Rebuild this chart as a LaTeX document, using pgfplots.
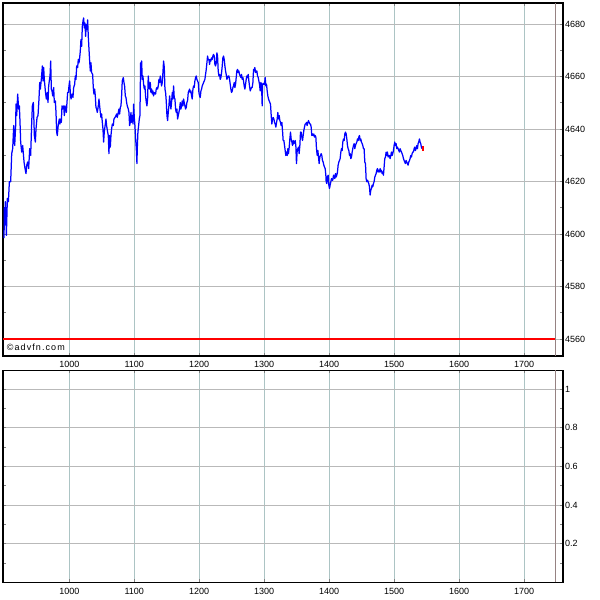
\documentclass[border=0pt]{standalone}
\usepackage{fontspec}
\setmainfont{Liberation Sans}
\usepackage{pgfplots}
\pgfplotsset{compat=1.18}
\definecolor{vgrid}{RGB}{172,196,196}
\definecolor{hgrid}{RGB}{185,185,185}
\definecolor{nowline}{RGB}{150,130,130}
\definecolor{advblue}{RGB}{0,0,255}
\pgfplotsset{
  advstyle/.style={
    scale only axis, width=560pt,
    xmin=897.9, xmax=1760,
    axis line style={line width=1.1pt},
    xtick={1000,1100,1200,1300,1400,1500,1600,1700},
    tick align=inside,
    xtick pos=both, ytick pos=both,
    yticklabel pos=right,
    xticklabel pos=lower,
    major tick length=3pt, minor tick length=3pt,
    tick style={line width=0.8pt},
    grid=major,
    major grid style={hgrid, solid, line width=0.8pt},
    x grid style={vgrid},
    y grid style={hgrid},
    tick label style={font=\fontsize{9}{10}\selectfont, inner sep=0pt},
    xticklabel style={yshift=-5.5pt},
    yticklabel style={xshift=1.8pt},
    /pgf/number format/assume math mode=true,
    /pgf/number format/1000 sep={},
    scaled ticks=false,
  }
}
\begin{document}
\begin{tikzpicture}
\path[use as bounding box] (0pt,0pt) rectangle (600pt,600pt);
% ---------- top panel ----------
\begin{axis}[advstyle, at={(3pt,244pt)}, anchor=south west, height=353pt,
  ymin=4553.5, ymax=4688,
  ytick={4560,4580,4600,4620,4640,4660,4680},
  minor ytick={4570,4590,4610,4630,4650,4670},
]
\addplot[nowline, line width=0.8pt] coordinates {(1748,4553.5) (1748,4688)};
\addplot[red, line width=1.3pt] coordinates {(897.9,4560) (1748,4560)};
\addplot[advblue, line width=1.25pt, line join=round] coordinates {
(899.5,4598.4) (900.0,4610.0) (901.0,4603.4) (901.5,4612.3) (902.6,4607.2) (903.1,4599.5) (903.6,4604.0) (904.6,4613.5) (906.2,4612.3)
(907.7,4619.9) (909.7,4619.9) (911.3,4630.6) (912.8,4632.5) (914.4,4641.3) (915.9,4633.7) (917.4,4641.3) (917.9,4649.5) (919.0,4645.1)
(920.5,4653.3) (922.0,4647.6) (923.1,4648.8) (924.1,4642.5) (925.1,4635.0) (926.7,4631.2) (928.2,4633.7) (930.3,4627.4) (931.8,4624.9)
(933.3,4623.0) (934.4,4626.2) (935.9,4627.4) (937.4,4624.9) (939.0,4632.5) (940.5,4629.9) (942.0,4641.9) (943.1,4648.8) (944.6,4650.1)
(946.2,4637.5) (947.7,4635.0) (948.7,4640.0) (950.3,4644.4) (951.8,4645.1) (953.3,4651.4) (954.4,4657.7) (955.4,4655.2) (956.9,4658.9)
(958.5,4664.0) (959.5,4658.3) (960.5,4663.4) (961.5,4658.9) (963.1,4654.5) (964.6,4651.4) (966.1,4653.9) (967.2,4650.1) (968.2,4656.4)
(969.2,4658.3) (970.3,4660.2) (971.3,4665.9) (972.3,4655.2) (973.3,4654.5) (974.4,4652.6) (975.9,4655.8) (976.9,4650.1) (978.5,4650.7)
(979.5,4646.3) (980.5,4638.8) (981.5,4637.5) (982.6,4640.7) (983.6,4642.5) (984.6,4643.8) (985.6,4641.9) (986.7,4643.8) (987.7,4642.5)
(988.7,4648.8) (989.7,4647.6) (991.3,4648.8) (992.3,4645.1) (993.3,4648.8) (994.4,4647.6) (995.4,4646.3) (996.4,4650.1) (997.4,4653.9)
(998.5,4653.9) (999.5,4656.4) (1000.5,4658.3) (1001.5,4653.9) (1002.6,4651.4) (1003.6,4652.6) (1004.6,4653.3) (1005.6,4652.0) (1006.7,4655.8)
(1008.2,4657.0) (1009.2,4660.2) (1010.3,4658.9) (1011.3,4664.0) (1012.8,4663.4) (1013.8,4666.5) (1014.9,4665.2) (1015.9,4667.1) (1016.9,4669.7)
(1017.9,4674.1) (1019.0,4671.5) (1020.0,4679.1) (1021.0,4681.0) (1022.0,4682.3) (1023.1,4678.5) (1024.1,4680.4) (1025.1,4675.3) (1026.1,4679.8)
(1027.2,4677.9) (1028.2,4681.6) (1029.2,4675.3) (1030.3,4670.3) (1031.3,4665.9) (1032.3,4662.1) (1033.3,4665.2) (1034.3,4661.5) (1035.9,4660.8)
(1036.9,4655.8) (1037.9,4653.3) (1039.0,4655.2) (1040.0,4652.6) (1041.0,4648.2) (1042.0,4647.6) (1043.1,4646.3) (1044.6,4648.8) (1045.6,4651.4)
(1046.7,4648.8) (1047.7,4646.3) (1048.7,4644.4) (1049.7,4645.7) (1050.8,4642.5) (1051.8,4640.0) (1052.8,4635.0) (1053.8,4638.8)
(1056.4,4643.8) (1057.4,4641.3) (1059.0,4638.8) (1060.0,4637.5) (1061.0,4630.6) (1062.0,4637.5) (1063.1,4633.1) (1064.1,4637.5) (1065.1,4640.0)
(1066.2,4641.9) (1067.7,4641.3) (1068.7,4643.8) (1070.3,4644.4) (1071.8,4645.1) (1072.8,4645.7) (1073.8,4644.4) (1075.4,4646.3) (1076.4,4647.6)
(1077.4,4645.7) (1078.5,4648.2) (1079.5,4648.8) (1080.5,4652.6) (1081.5,4658.3) (1083.1,4659.6) (1084.1,4657.7) (1085.1,4656.4) (1086.2,4652.6)
(1087.2,4652.0) (1088.2,4650.1) (1089.2,4648.8) (1090.8,4647.6) (1091.8,4646.3) (1092.3,4643.8) (1092.8,4641.3) (1093.8,4642.5) (1094.9,4646.3)
(1095.9,4642.5) (1096.9,4645.1) (1098.0,4641.9) (1099.0,4649.5) (1100.0,4644.4) (1101.0,4641.3) (1102.1,4636.2) (1103.1,4632.5) (1104.1,4626.8)
(1104.6,4632.5) (1105.6,4638.8) (1106.7,4641.3) (1107.7,4643.8) (1108.7,4645.1) (1109.2,4653.9) (1109.7,4665.2) (1110.3,4660.2) (1111.3,4665.9)
(1112.3,4658.9) (1113.3,4660.2) (1114.4,4657.0) (1115.4,4655.2) (1116.4,4656.4) (1117.4,4652.6) (1118.5,4650.1) (1119.5,4648.8) (1120.5,4651.4)
(1121.5,4660.2) (1122.6,4656.4) (1123.6,4655.2) (1124.6,4657.7) (1125.6,4653.9) (1126.7,4655.2) (1127.7,4653.3) (1128.7,4654.5) (1129.7,4652.6)
(1130.8,4653.9) (1132.8,4653.3) (1133.8,4655.2) (1134.9,4655.8) (1135.9,4655.2) (1136.9,4656.4) (1138.0,4658.9) (1139.0,4657.7) (1140.0,4660.2)
(1141.0,4658.3) (1142.0,4656.4) (1143.1,4657.7) (1144.1,4661.5) (1145.1,4665.9) (1146.2,4663.4) (1147.2,4655.2) (1148.2,4653.9) (1149.2,4650.7)
(1150.3,4645.1) (1151.3,4643.2) (1152.3,4646.3) (1153.3,4648.8) (1154.4,4652.6) (1155.4,4650.1) (1156.4,4647.6) (1157.4,4650.1) (1158.5,4653.9)
(1159.5,4651.4) (1160.5,4656.4) (1161.5,4652.0) (1162.6,4651.4) (1163.6,4647.6) (1164.6,4646.3) (1165.6,4647.6) (1166.7,4643.8) (1167.7,4645.1)
(1168.7,4646.3) (1169.7,4647.6) (1170.8,4650.1) (1171.8,4647.6) (1172.8,4648.8) (1173.8,4650.7) (1174.9,4648.8) (1175.9,4651.4) (1176.9,4650.1)
(1178.0,4648.8) (1179.0,4647.6) (1180.0,4648.2) (1181.0,4650.1) (1182.0,4650.7) (1183.1,4653.9) (1184.1,4654.5) (1185.1,4655.2) (1186.1,4653.9)
(1187.2,4654.5) (1188.2,4652.6) (1189.2,4651.4) (1190.3,4655.2) (1191.3,4656.4) (1192.3,4655.8) (1193.3,4658.3) (1194.4,4659.6) (1195.4,4660.2)
(1196.4,4658.9) (1197.4,4658.3) (1198.5,4657.7) (1199.5,4653.9) (1200.5,4652.6) (1201.5,4652.0) (1202.6,4654.5) (1203.6,4655.2) (1204.6,4656.4)
(1205.6,4657.0) (1206.7,4657.7) (1207.7,4658.3) (1208.7,4658.9) (1209.7,4660.8) (1210.8,4662.7) (1211.8,4665.2) (1212.8,4667.8) (1213.8,4666.5)
(1214.9,4666.5) (1215.9,4664.6) (1216.9,4666.5) (1217.9,4665.9) (1219.0,4667.1) (1220.0,4666.5) (1221.0,4667.8) (1222.0,4668.4) (1223.1,4667.8)
(1224.1,4664.6) (1225.1,4664.0) (1226.2,4665.2) (1227.2,4669.0) (1228.2,4667.8) (1229.2,4662.1) (1230.3,4660.2) (1231.3,4660.8) (1232.3,4658.9)
(1233.3,4659.6) (1234.4,4661.5) (1235.4,4664.0) (1236.4,4667.1) (1237.4,4667.8) (1238.5,4666.5) (1239.5,4664.0) (1240.5,4662.1) (1241.5,4660.8)
(1242.6,4658.9) (1243.6,4659.6) (1244.6,4660.2) (1245.6,4660.2) (1246.7,4658.9) (1247.7,4657.0) (1248.7,4655.2) (1249.7,4653.9) (1250.8,4654.5)
(1251.8,4655.8) (1252.8,4656.4) (1253.8,4657.7) (1254.9,4655.8) (1255.9,4657.0) (1256.9,4659.6) (1257.9,4662.1) (1259.0,4662.7) (1260.0,4661.5)
(1261.0,4662.1) (1262.0,4660.8) (1263.1,4660.2) (1264.1,4659.6) (1265.1,4660.8) (1266.2,4658.9) (1267.2,4659.6) (1268.2,4658.3) (1269.2,4656.4)
(1270.3,4655.2) (1271.3,4657.0) (1272.3,4658.9) (1273.3,4660.2) (1274.4,4659.6) (1275.4,4660.8) (1276.4,4658.3) (1277.4,4656.4) (1278.5,4654.5)
(1279.5,4655.2) (1280.5,4655.8) (1281.5,4655.8) (1282.6,4657.7) (1283.6,4662.7) (1284.6,4662.1) (1285.6,4663.4) (1286.7,4661.5) (1287.7,4662.1)
(1288.7,4662.1) (1289.7,4660.2) (1290.8,4659.6) (1291.8,4658.3) (1292.8,4657.0) (1293.8,4654.5) (1294.9,4657.7) (1295.9,4657.0) (1296.9,4648.8)
(1297.4,4657.0) (1298.5,4657.4) (1299.5,4657.0) (1300.5,4657.0) (1301.5,4659.6) (1302.6,4656.4) (1303.6,4657.0) (1304.6,4654.5) (1305.6,4652.6)
(1306.7,4651.4) (1307.7,4650.7) (1308.7,4650.1) (1309.7,4649.5) (1310.8,4645.1) (1311.8,4641.9) (1312.8,4643.8) (1313.8,4644.4) (1314.9,4643.8)
(1315.9,4642.5) (1316.9,4641.9) (1318.0,4640.7) (1319.0,4642.5) (1320.0,4643.8) (1321.0,4646.3) (1322.0,4643.8) (1323.1,4645.1) (1324.1,4643.2)
(1325.1,4642.5) (1326.1,4641.3) (1327.2,4642.5) (1328.2,4639.4) (1329.2,4635.6) (1330.3,4635.6) (1331.3,4633.7) (1332.3,4631.8) (1333.3,4629.9)
(1334.4,4631.2) (1335.4,4629.9) (1336.4,4632.5) (1337.4,4630.6) (1338.5,4633.1) (1339.5,4636.2) (1340.5,4638.8) (1341.5,4636.2) (1342.6,4635.0)
(1343.6,4633.7) (1344.6,4635.6) (1345.6,4634.4) (1346.7,4635.0) (1347.7,4635.6) (1348.7,4633.7) (1349.7,4626.8) (1350.8,4631.8) (1351.8,4632.5)
(1352.8,4633.1) (1353.8,4630.6) (1354.9,4633.7) (1355.9,4638.8) (1356.9,4638.8) (1357.9,4636.9) (1359.0,4635.6) (1360.0,4637.5) (1361.0,4639.4)
(1362.0,4640.7) (1363.1,4641.9) (1364.1,4641.9) (1365.1,4642.5) (1366.1,4641.3) (1367.2,4642.5) (1368.2,4643.2) (1369.2,4642.5) (1370.2,4641.9)
(1371.3,4641.9) (1372.3,4640.7) (1373.3,4637.5) (1374.4,4638.1) (1375.4,4637.5) (1376.4,4638.1) (1377.4,4636.9) (1378.5,4637.5) (1379.5,4636.9)
(1380.5,4632.5) (1381.6,4629.9) (1382.6,4631.8) (1383.6,4629.3) (1384.6,4626.8) (1385.6,4629.3) (1386.7,4629.9) (1387.7,4630.6) (1388.7,4629.9)
(1389.7,4628.0) (1390.8,4627.4) (1391.8,4626.2) (1392.8,4625.5) (1393.9,4624.9) (1394.9,4622.4) (1395.4,4619.9) (1396.4,4619.2) (1397.4,4621.7)
(1398.5,4622.4) (1399.5,4618.6) (1400.5,4617.3) (1401.5,4618.6) (1402.6,4619.9) (1403.6,4621.1) (1404.6,4620.5) (1405.6,4620.5) (1406.7,4622.4)
(1407.7,4621.7) (1408.7,4621.1) (1409.7,4623.0) (1410.8,4621.7) (1411.8,4622.4) (1412.8,4623.6) (1413.8,4626.2) (1414.9,4627.4) (1415.9,4628.0)
(1416.9,4628.7) (1418.0,4631.2) (1419.0,4632.5) (1420.0,4631.8) (1421.0,4635.0) (1422.1,4636.2) (1423.1,4635.6) (1424.1,4638.1) (1425.1,4638.8)
(1426.2,4638.1) (1427.2,4636.2) (1428.2,4633.7) (1429.2,4632.5) (1430.3,4631.8) (1431.3,4629.9) (1432.3,4630.6) (1433.3,4628.7) (1434.4,4629.3)
(1435.4,4631.2) (1436.4,4632.5) (1437.4,4633.7) (1438.5,4634.4) (1439.5,4632.5) (1440.5,4633.7) (1441.5,4634.4) (1442.6,4635.0) (1443.6,4636.2)
(1444.6,4635.6) (1445.6,4636.9) (1446.7,4637.5) (1447.7,4635.6) (1448.7,4636.2) (1449.7,4635.0) (1450.8,4634.4) (1451.8,4633.7) (1452.8,4632.5)
(1453.8,4632.5) (1454.9,4627.4) (1455.9,4626.8) (1456.9,4621.1) (1458.0,4619.9) (1459.0,4620.5) (1460.0,4619.9) (1461.0,4619.2) (1462.0,4618.0)
(1463.1,4614.8) (1464.1,4616.7) (1465.1,4617.3) (1466.2,4618.6) (1467.2,4618.0) (1468.2,4619.2) (1469.2,4619.9) (1470.3,4621.7) (1471.3,4622.4)
(1472.3,4623.0) (1473.3,4624.3) (1474.4,4624.9) (1475.4,4623.6) (1476.4,4624.3) (1477.4,4623.6) (1478.5,4624.9) (1479.5,4623.6) (1480.5,4624.3)
(1481.5,4623.0) (1482.6,4623.6) (1483.6,4622.4) (1484.6,4625.5) (1485.6,4628.7) (1486.7,4629.3) (1487.7,4631.2) (1488.7,4629.9) (1489.7,4631.2)
(1490.8,4629.3) (1491.8,4629.9) (1492.8,4629.9) (1493.8,4628.7) (1494.9,4629.9) (1495.9,4631.2) (1496.9,4629.9) (1497.9,4630.6) (1499.0,4631.8)
(1500.0,4633.7) (1501.0,4635.0) (1502.0,4633.7) (1503.1,4634.4) (1504.1,4632.5) (1505.1,4633.1) (1506.1,4632.5) (1507.2,4631.8) (1508.2,4631.2)
(1509.2,4632.5) (1510.3,4631.8) (1511.3,4631.2) (1512.3,4630.6) (1513.3,4629.9) (1514.4,4628.7) (1515.4,4628.0) (1516.4,4627.4) (1517.4,4626.8)
(1518.5,4628.0) (1519.5,4627.4) (1520.5,4626.8) (1521.5,4626.2) (1522.6,4627.4) (1523.6,4628.0) (1524.6,4628.7) (1525.6,4629.9) (1526.7,4629.3)
(1527.7,4630.6) (1528.7,4631.2) (1529.7,4631.2) (1530.8,4632.5) (1531.8,4633.1) (1532.8,4631.8) (1533.8,4632.5) (1534.9,4633.7) (1535.9,4632.5)
(1536.9,4634.4) (1537.9,4635.0) (1539.0,4636.2) (1540.0,4635.0) (1541.0,4634.4) (1542.0,4633.1) (1543.1,4632.5)
};
\addplot[red, line width=1.5pt] coordinates {(1544.1,4631.6) (1544.1,4633.6)};
\node[anchor=base west, inner sep=0pt, xshift=3.7pt, yshift=5pt,
  font=\fontsize{9}{10}\selectfont\addfontfeature{LetterSpace=12}] at (rel axis cs:0,0) {©advfn.com};
\end{axis}
% ---------- bottom panel ----------
\begin{axis}[advstyle, at={(3pt,17.5pt)}, anchor=south west, height=212pt,
  ymin=0, ymax=1.0956,
  ytick={0.2,0.4,0.6,0.8,1},
  minor ytick={0.1,0.3,0.5,0.7,0.9},
]
\addplot[nowline, line width=0.8pt] coordinates {(1748,0) (1748,1.0956)};
\end{axis}
\end{tikzpicture}
\end{document}
